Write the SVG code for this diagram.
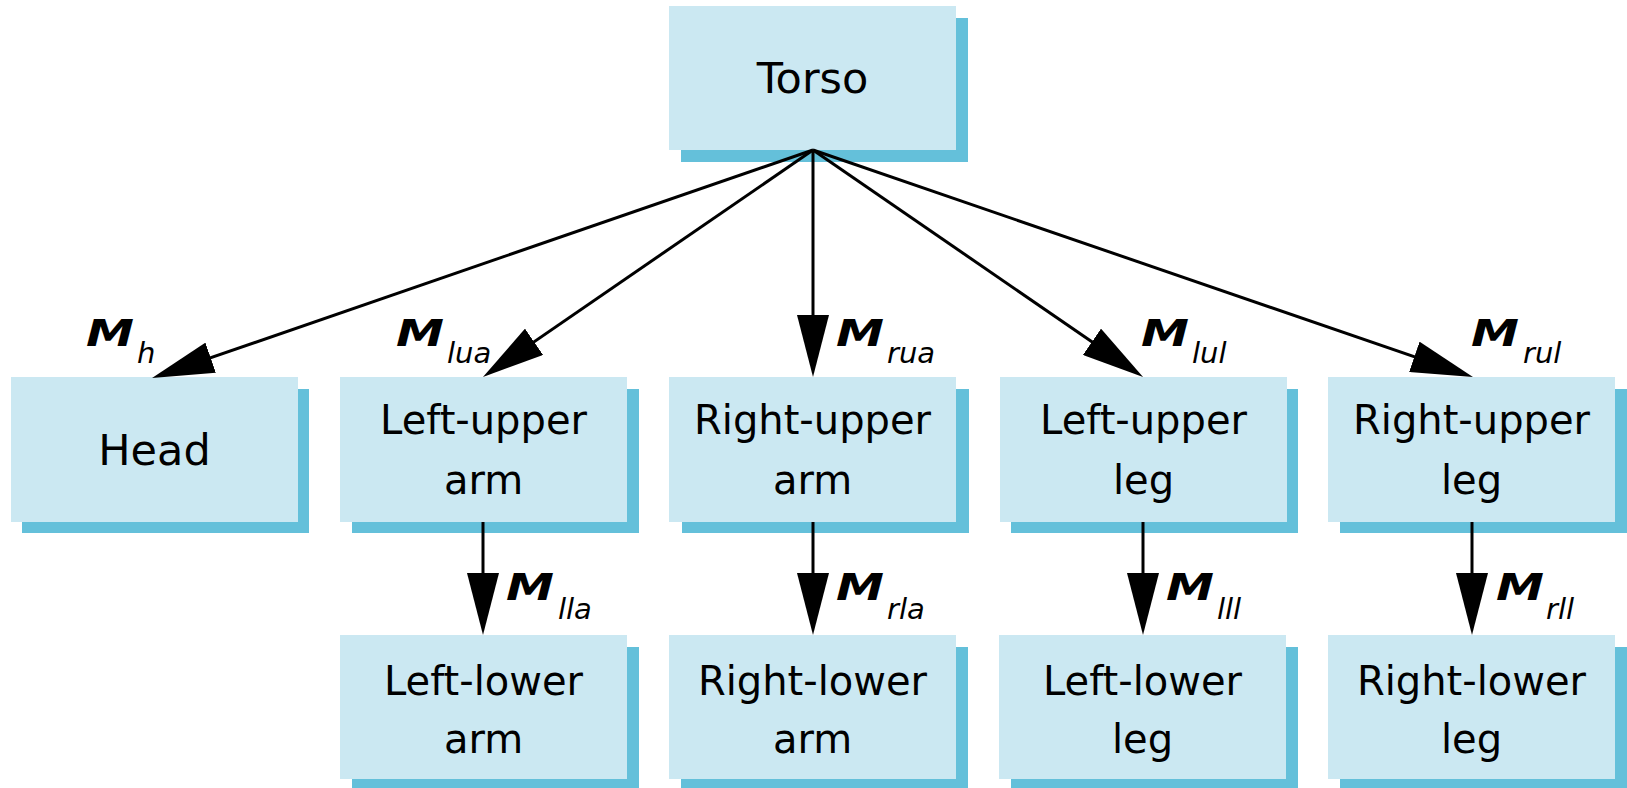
<svg xmlns="http://www.w3.org/2000/svg" width="1627" height="788" viewBox="0 0 1627 788">
<defs>
<style>
.bg{fill:#ffffff}
.sh{fill:#64c0da}
.bx{fill:#cbe8f2}
.t{font-family:"DejaVu Sans",sans-serif;font-size:40px;fill:#000;text-anchor:middle}
.t1{font-family:"DejaVu Sans",sans-serif;font-size:43px;fill:#000;text-anchor:middle}
.m{font-family:"DejaVu Sans",sans-serif;font-size:38px;font-weight:bold;font-style:italic;fill:#000}
.s{font-family:"DejaVu Sans",sans-serif;font-size:29px;font-style:italic;fill:#000}
.c{stroke:#000;stroke-width:3;fill:none;marker-end:url(#ah)}
</style>
<marker id="ah" viewBox="0 0 62 32" refX="52" refY="16" markerWidth="62" markerHeight="32" markerUnits="userSpaceOnUse" orient="auto">
<path d="M0,0 L62,16 L0,32 Z" fill="#000"/>
</marker>
</defs>
<rect class="bg" x="0" y="0" width="1627" height="788"/>

<g id="torso">
<rect class="sh" x="681" y="18" width="287" height="144"/>
<rect class="bx" x="669" y="6" width="287" height="144"/>
<text class="t1" x="812.5" y="93">Torso</text>
</g>

<g id="head">
<rect class="sh" x="22" y="389" width="287" height="144"/>
<rect class="bx" x="11" y="377" width="287" height="145"/>
<text class="t1" x="154.5" y="465">Head</text>
</g>

<g id="left-upper-arm">
<rect class="sh" x="352" y="389" width="287" height="144"/>
<rect class="bx" x="340" y="377" width="287" height="145"/>
<text class="t" x="483.5" y="434">Left-upper</text>
<text class="t" x="483.5" y="494">arm</text>
</g>

<g id="right-upper-arm">
<rect class="sh" x="682" y="389" width="287" height="144"/>
<rect class="bx" x="669" y="377" width="287" height="145"/>
<text class="t" x="812.5" y="434">Right-upper</text>
<text class="t" x="812.5" y="494">arm</text>
</g>

<g id="left-upper-leg">
<rect class="sh" x="1011" y="389" width="287" height="144"/>
<rect class="bx" x="1000" y="377" width="287" height="145"/>
<text class="t" x="1143.5" y="434">Left-upper</text>
<text class="t" x="1143.5" y="494">leg</text>
</g>

<g id="right-upper-leg">
<rect class="sh" x="1340" y="389" width="287" height="144"/>
<rect class="bx" x="1328" y="377" width="287" height="145"/>
<text class="t" x="1471.5" y="434">Right-upper</text>
<text class="t" x="1471.5" y="494">leg</text>
</g>

<g id="left-lower-arm">
<rect class="sh" x="352" y="647" width="287" height="144"/>
<rect class="bx" x="340" y="635" width="287" height="144"/>
<text class="t" x="483.5" y="695">Left-lower</text>
<text class="t" x="483.5" y="753">arm</text>
</g>

<g id="right-lower-arm">
<rect class="sh" x="681" y="647" width="287" height="144"/>
<rect class="bx" x="669" y="635" width="287" height="144"/>
<text class="t" x="812.5" y="695">Right-lower</text>
<text class="t" x="812.5" y="753">arm</text>
</g>

<g id="left-lower-leg">
<rect class="sh" x="1011" y="647" width="287" height="144"/>
<rect class="bx" x="999" y="635" width="287" height="144"/>
<text class="t" x="1142.5" y="695">Left-lower</text>
<text class="t" x="1142.5" y="753">leg</text>
</g>

<g id="right-lower-leg">
<rect class="sh" x="1340" y="647" width="287" height="144"/>
<rect class="bx" x="1328" y="635" width="287" height="144"/>
<text class="t" x="1471.5" y="695">Right-lower</text>
<text class="t" x="1471.5" y="753">leg</text>
</g>

<g id="connectors">
<line class="c" x1="813" y1="150" x2="161.5" y2="374.7"/>
<line class="c" x1="813" y1="150" x2="491.2" y2="371.3"/>
<line class="c" x1="813" y1="150" x2="813" y2="367"/>
<line class="c" x1="813" y1="150" x2="1134.8" y2="371.3"/>
<line class="c" x1="813" y1="150" x2="1463.5" y2="373.7"/>
<line class="c" x1="483" y1="522" x2="483" y2="625"/>
<line class="c" x1="813" y1="522" x2="813" y2="625"/>
<line class="c" x1="1143" y1="522" x2="1143" y2="625"/>
<line class="c" x1="1472" y1="522" x2="1472" y2="625"/>
</g>

<g id="labels">
<text class="m" x="86" y="346" textLength="48" lengthAdjust="spacingAndGlyphs">M</text><text class="s" x="137" y="363">h</text>
<text class="m" x="396" y="346" textLength="48" lengthAdjust="spacingAndGlyphs">M</text><text class="s" x="447" y="363">lua</text>
<text class="m" x="836" y="346" textLength="48" lengthAdjust="spacingAndGlyphs">M</text><text class="s" x="887" y="363">rua</text>
<text class="m" x="1141" y="346" textLength="48" lengthAdjust="spacingAndGlyphs">M</text><text class="s" x="1192" y="363">lul</text>
<text class="m" x="1471" y="346" textLength="48" lengthAdjust="spacingAndGlyphs">M</text><text class="s" x="1523" y="363">rul</text>
<text class="m" x="506" y="600" textLength="48" lengthAdjust="spacingAndGlyphs">M</text><text class="s" x="558" y="619">lla</text>
<text class="m" x="836" y="600" textLength="48" lengthAdjust="spacingAndGlyphs">M</text><text class="s" x="887" y="619">rla</text>
<text class="m" x="1166" y="600" textLength="48" lengthAdjust="spacingAndGlyphs">M</text><text class="s" x="1217" y="619">lll</text>
<text class="m" x="1496" y="600" textLength="48" lengthAdjust="spacingAndGlyphs">M</text><text class="s" x="1546" y="619">rll</text>
</g>
</svg>
